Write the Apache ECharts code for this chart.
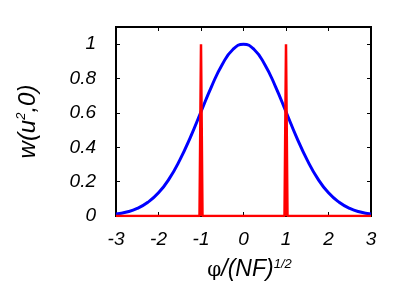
<!DOCTYPE html>
<html><head><meta charset="utf-8">
<script src="https://cdn.jsdelivr.net/npm/echarts@6/dist/echarts.min.js"></script>
<style>html,body{margin:0;padding:0;background:#fff}#c{width:409px;height:286px}</style>
</head><body><div id="c"></div>
<script>
// Blue curve samples
const blueX = [-3,-2.75,-2.5,-2.25,-2,-1.75,-1.5,-1.25,-1,-0.75,-0.5,-0.25,0,0.25,0.5,0.75,1,1.25,1.5,1.75,2,2.25,2.5,2.75,3];
const blueY = [0.011,0.023,0.044,0.080,0.135,0.216,0.325,0.458,0.607,0.755,0.882,0.969,1,0.969,0.882,0.755,0.607,0.458,0.325,0.216,0.135,0.080,0.044,0.023,0.011];
// Red spikes
const redX = [-3,-1.035,-1,-0.965,0.965,1,1.035,3];
const redY = [0,0,1,0,0,1,0,0];
const xTicks = [-3,-2,-1,0,1,2,3];
const yTicks = [0,0.2,0.4,0.6,0.8,1];

const chart = echarts.init(document.getElementById('c'), null, {renderer:'canvas'});
const font = 'Liberation Sans, Arial, sans-serif';
const pair = (xs, ys) => xs.map((x,i)=>[x,ys[i]]);
const tick = {show:true, inside:true, length:4, lineStyle:{color:'#000', width:1}};
chart.setOption({
  animation:false,
  grid:{left:116, right:38, top:27, bottom:70, show:true, borderColor:'#000', borderWidth:2},
  xAxis:[{
    type:'value', min:-3, max:3, interval:1,
    axisLine:{show:true, onZero:false, lineStyle:{color:'#000', width:2}},
    axisTick:tick, splitLine:{show:false},
    axisLabel:{color:'#000', fontSize:19, fontStyle:'italic', fontFamily:font, margin:14,
      formatter:v=>xTicks.includes(v)?String(v):''},
    name:'{phi|φ}{t|/(NF)}{sup|1/2}', nameLocation:'middle', nameGap:42,
    nameTextStyle:{padding:[0,0,0,12], rich:{
      phi:{fontFamily:'DejaVu Serif, serif', fontSize:20, color:'#000', verticalAlign:'bottom'},
      t:{fontFamily:font, fontStyle:'italic', fontSize:23, color:'#000', verticalAlign:'bottom'},
      sup:{fontFamily:font, fontStyle:'italic', fontSize:13, color:'#000', verticalAlign:'bottom', padding:[0,0,10,0]}
    }}
  },{
    type:'value', position:'top', min:-3, max:3, interval:1,
    axisLine:{show:false, onZero:false}, axisTick:tick, axisLabel:{show:false}, splitLine:{show:false}
  }],
  yAxis:[{
    type:'value', min:0, max:1.1, interval:0.2,
    axisLine:{show:true, onZero:false, lineStyle:{color:'#000', width:2}},
    axisTick:tick, splitLine:{show:false},
    axisLabel:{color:'#000', fontSize:19, fontStyle:'italic', fontFamily:font, margin:20, showMaxLabel:false,
      formatter:v=>{const t=yTicks.find(a=>Math.abs(a-v)<1e-6);return t===undefined?'':String(t);}},
    name:'{t|w(u}{sup|2}{t|,0)}', nameLocation:'middle', nameGap:76,
    nameTextStyle:{rich:{
      t:{fontFamily:font, fontStyle:'italic', fontSize:24, color:'#000', verticalAlign:'bottom'},
      sup:{fontFamily:font, fontStyle:'italic', fontSize:13, color:'#000', verticalAlign:'bottom', padding:[0,0,12,0]}
    }}
  },{
    type:'value', position:'right', min:0, max:1.1, interval:0.2,
    axisLine:{show:false, onZero:false}, axisTick:tick, axisLabel:{show:false}, splitLine:{show:false}
  }],
  series:[
    {type:'line', data:pair(blueX, blueY), smooth:true, symbol:'none', lineStyle:{color:'#0000ff', width:3}, z:2},
    {type:'line', data:pair(redX, redY), symbol:'none', lineStyle:{color:'#ff0000', width:2.5}, areaStyle:{color:'#ff0000', opacity:1}, z:3}
  ]
});
</script></body></html>
